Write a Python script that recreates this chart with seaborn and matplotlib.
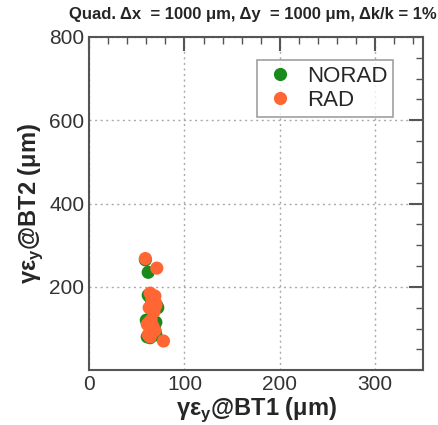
import matplotlib
matplotlib.use("Agg")
import matplotlib.pyplot as plt
import seaborn as sns
import pandas as pd
from matplotlib.ticker import MultipleLocator

norad_x = [59, 62, 64, 66, 68, 70, 71, 60, 63, 65, 67, 69, 70, 61, 64, 66, 68, 70, 72, 62, 65]
norad_y = [265, 235, 175, 165, 160, 150, 155, 120, 118, 110, 100, 95, 85, 80, 78, 90, 105, 115, 150, 180, 125]
rad_x = [59, 71, 64, 66, 69, 70, 63, 66, 68, 61, 63, 65, 67, 69, 62, 64, 66, 78, 70, 65]
rad_y = [268, 245, 185, 170, 178, 160, 150, 160, 140, 110, 115, 100, 105, 95, 85, 80, 90, 70, 155, 120]

df = pd.concat([
    pd.DataFrame({"x": norad_x, "y": norad_y, "series": "NORAD"}),
    pd.DataFrame({"x": rad_x, "y": rad_y, "series": "RAD"}),
])

sns.set_style("white")
plt.rcParams['font.family'] = ['Liberation Sans', 'DejaVu Sans']

fig = plt.figure(figsize=(4.39, 4.25), dpi=100)
ax = fig.add_axes([0.203, 0.129, 0.760, 0.784])

sns.scatterplot(data=df, x="x", y="y", hue="series",
                palette={"NORAD": "#1a8a1a", "RAD": "#ff6633"},
                s=90, linewidth=0, ax=ax, legend=True)

ax.set_xlim(0, 350)
ax.set_ylim(0, 800)
ax.xaxis.set_minor_locator(MultipleLocator(20))
ax.yaxis.set_minor_locator(MultipleLocator(50))
ax.set_xticks([0, 100, 200, 300])
ax.set_yticks([0, 200, 400, 600, 800])
ax.set_yticklabels(["", "200", "400", "600", "800"])
ax.tick_params(which="both", direction="in", top=True, right=True, color="#555555",
               labelsize=15, labelcolor="#333333")
ax.tick_params(which="major", length=10, width=1.5)
ax.tick_params(which="minor", length=5, width=1)
for sp in ax.spines.values():
    sp.set_color("#555555")
    sp.set_linewidth(1.5)
ax.grid(True, linestyle=(0, (1.5, 2.5)), color="#aaaaaa", linewidth=1)

ax.set_xlabel("γε$_\\mathregular{y}$@BT1 (μm)", fontsize=17, fontweight="bold", labelpad=1)
ax.set_ylabel("γε$_\\mathregular{y}$@BT2 (μm)", fontsize=17, fontweight="bold", labelpad=3)

fig.text(0.995, 0.965, "Quad. Δx  = 1000 μm, Δy  = 1000 μm, Δk/k = 1%",
         ha="right", va="center", fontsize=12, fontweight="bold")

leg = ax.legend(loc="upper right", bbox_to_anchor=(0.91, 0.93), borderaxespad=0,
                frameon=True, fancybox=False, fontsize=16, handletextpad=0.4,
                handlelength=1.6, borderpad=0.25, labelspacing=0.15, markerscale=1.0)
leg.get_frame().set_edgecolor("#888888")
leg.get_frame().set_linewidth(1.2)

fig.savefig("out.png", dpi=100)
